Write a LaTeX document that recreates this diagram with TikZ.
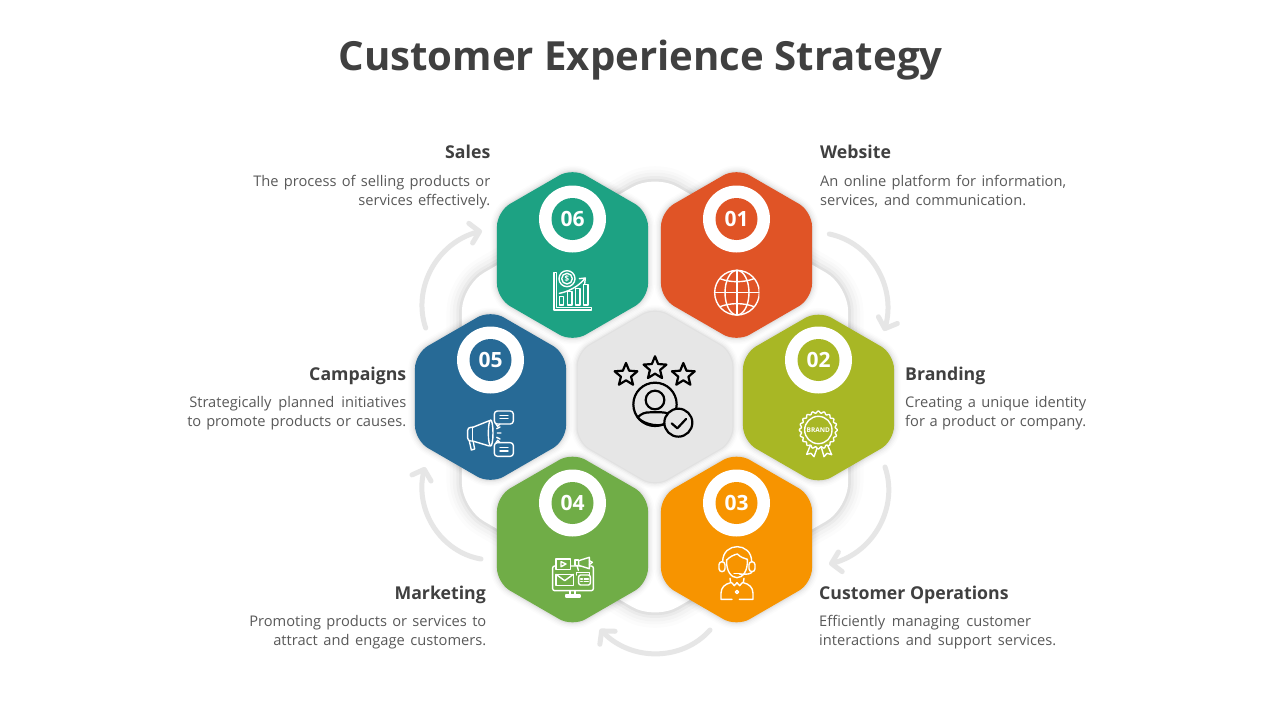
\documentclass[tikz,border=0pt]{standalone}
\usepackage{fontspec}
\setmainfont{Open Sans}
\usetikzlibrary{shapes.geometric,arrows.meta,bending,calc}
\definecolor{cteal}{HTML}{1DA283}
\definecolor{cred}{HTML}{E05426}
\definecolor{colive}{HTML}{A8B725}
\definecolor{corange}{HTML}{F79400}
\definecolor{cgreen}{HTML}{70AD47}
\definecolor{cblue}{HTML}{276A96}
\definecolor{cgrey}{HTML}{E6E6E6}
\definecolor{ctitle}{HTML}{404040}
\definecolor{cbody}{HTML}{595959}
\newcommand{\fitline}[2]{\makebox[#1pt][s]{\strut #2}}
\tikzset{
  softshadow/.style={
    preaction={draw=black,draw opacity=.012,line width=#1*2.2pt,line join=round},
    preaction={draw=black,draw opacity=.016,line width=#1*1.7pt,line join=round},
    preaction={draw=black,draw opacity=.02,line width=#1*1.3pt,line join=round},
    preaction={draw=black,draw opacity=.03,line width=#1*.8pt,line join=round},
    preaction={draw=black,draw opacity=.04,line width=#1*.4pt,line join=round}},
  hexa/.style={regular polygon,regular polygon sides=6,shape border rotate=30,
    minimum size=174.4pt,inner sep=0pt,outer sep=0pt,rounded corners=15pt,
    fill=#1,softshadow=6},
  hubhex/.style={regular polygon,regular polygon sides=6,shape border rotate=30,
    minimum size=178.5pt,inner sep=0pt,outer sep=0pt,rounded corners=14pt,
    fill=#1,softshadow=6},
  bighex/.style={regular polygon,regular polygon sides=6,shape border rotate=30,
    minimum size=446pt,inner sep=0pt,outer sep=0pt,rounded corners=26pt,
    fill=white,softshadow=14},
  ring/.style={circle,fill=white,minimum size=67pt,inner sep=0pt},
  badge/.style={circle,fill=#1,minimum size=42pt,inner sep=0pt,text=white,
    font=\fontsize{21}{24}\selectfont\bfseries},
  cyclearrow/.style={draw=cgrey,line width=5pt,line cap=round,
    -{Straight Barb[length=9pt,width=20pt,round]}},
  maintitle/.style={text=ctitle,font=\fontsize{40.15}{48}\selectfont\bfseries,inner sep=0pt,anchor=base},
  headl/.style={text=ctitle,font=\fontsize{17.7}{24}\selectfont\bfseries,inner sep=0pt,anchor=base west},
  headr/.style={text=ctitle,font=\fontsize{17.7}{24}\selectfont\bfseries,inner sep=0pt,anchor=base east},
  bodyl/.style={text=cbody,font=\fontsize{14.67}{19}\selectfont,inner sep=0pt,anchor=north west,align=left},
  bodyr/.style={text=cbody,font=\fontsize{14.67}{19}\selectfont,inner sep=0pt,anchor=north east,align=right},
  ico/.style={draw=white,line width=1.4pt,line cap=round,line join=round},
  icon/.style={draw=black,line width=2.2pt,line cap=round,line join=round},
  zoomed/.style={shift={#1},scale=.33333},
}
\begin{document}
\begin{tikzpicture}[x=1pt,y=-1pt]
\useasboundingbox (0,0) rectangle (1280,720);
\fill[white] (0,0) rectangle (1280,720);

\node[maintitle] (title) at (640.5,70) {Customer Experience Strategy};

\node[bighex] (back) at (655,397) {};

% cycle arrows
\coordinate (s12) at (829.3,234); \coordinate (t12) at (884,331);
\coordinate (s23) at (885,467);   \coordinate (t23) at (829,564);
\coordinate (s34) at (710,630);   \coordinate (t34) at (600,629);
\coordinate (s45) at (481,559);   \coordinate (t45) at (425,467);
\coordinate (s56) at (425.7,328); \coordinate (t56) at (482,231);
\draw[cyclearrow] (s12) to[bend left=49] (t12);
\draw[cyclearrow] (s23) to[bend left=49] (t23);
\draw[cyclearrow] (s34) to[bend left=49] (t34);
\draw[cyclearrow] (s45) to[bend left=49] (t45);
\draw[cyclearrow] (s56) to[bend left=49] (t56);

% hexagons
\node[hubhex=cgrey] (hub)  at (655,397) {};
\node[hexa=cred]    (h1)   at (736.5,255) {};
\node[hexa=colive]  (h2)   at (818.5,397.5) {};
\node[hexa=corange] (h3)   at (736.5,539.5) {};
\node[hexa=cgreen]  (h4)   at (572.5,539.5) {};
\node[hexa=cblue]   (h5)   at (490.5,397) {};
\node[hexa=cteal]   (h6)   at (572.5,255) {};

% number rings
\node[ring] (r1) at (736.5,219) {}; \node[badge=cred]    (n1) at (r1) {01};
\node[ring] (r2) at (818.5,360) {}; \node[badge=colive]  (n2) at (r2) {02};
\node[ring] (r3) at (736.5,503) {}; \node[badge=corange] (n3) at (r3) {03};
\node[ring] (r4) at (572.5,503) {}; \node[badge=cgreen]  (n4) at (r4) {04};
\node[ring] (r5) at (490.5,360) {}; \node[badge=cblue]   (n5) at (r5) {05};
\node[ring] (r6) at (572.5,219) {}; \node[badge=cteal]   (n6) at (r6) {06};

% labels
\node[headr] (lsales) at (490.5,158) {Sales};
\node[bodyr] (tsales) at (490.5,172.5) {\fitline{237}{The process of selling products or}\\\fitline{132}{services effectively.}};
\node[headl] (lweb) at (820,158) {Website};
\node[bodyl] (tweb) at (820,172.5) {\fitline{246}{An online platform for information,}\\\fitline{206}{services, and communication.}};
\node[headr] (lcamp) at (406.5,380) {Campaigns};
\node[bodyr] (tcamp) at (406.5,394) {\fitline{217}{Strategically planned initiatives}\\\fitline{219}{to promote products or causes.}};
\node[headl] (lbrand) at (905,380) {Branding};
\node[bodyl] (tbrand) at (905,394) {\fitline{181}{Creating a unique identity}\\\fitline{181}{for a product or company.}};
\node[headr] (lmark) at (486,599) {Marketing};
\node[bodyr] (tmark) at (486.5,613) {\fitline{237}{Promoting products or services to}\\\fitline{213}{attract and engage customers.}};
\node[headl] (lops) at (819,599) {Customer Operations};
\node[bodyl] (tops) at (819,613) {\fitline{212}{Efficiently managing customer}\\\fitline{237}{interactions and support services.}};

% icon 06: chart
\begin{scope}[zoomed={(480,160)}]
  \draw[ico] (222,338) -- (222,450) -- (334,450) -- (334,443) -- (230,443) -- (230,338) -- cycle;
  \foreach \xa/\xb/\yt in {238/250/410,262/276/395,286/300/385,310/324/373}
    \draw[ico] (\xa,435) rectangle (\xb,\yt);
  \draw[ico] (238,400) .. controls (265,395) and (295,380) .. (314,356);
  \draw[ico] (298,356) -- (316,354) -- (314,372);
  \fill[cteal] (261,356) circle (24);
  \draw[ico] (261,356) circle (24);
  \draw[ico] (261,356) circle (16);
  \node[text=white,inner sep=0pt,font=\fontsize{8}{8}\selectfont\bfseries] (dollar) at (261,356) {\$};
\end{scope}

% icon 01: globe
\begin{scope}[zoomed={(480,160)}]
  \begin{scope}
    \clip (700,325) rectangle (838,470);
    \draw[ico] (771,398) circle (67);
    \draw[ico] (771,398) ellipse (36 and 67);
    \draw[ico] (771,331) -- (771,465);
    \draw[ico] (704,398) -- (838,398);
    \draw[ico] (720,356) .. controls (750,368) and (792,368) .. (822,356);
    \draw[ico] (720,440) .. controls (750,428) and (792,428) .. (822,440);
  \end{scope}
\end{scope}

% icon 02: badge
\begin{scope}[zoomed={(780,220)}]
  \draw[ico] (92,674) -- (80,703) -- (93,700) -- (102,710) -- (112,682);
  \draw[ico] (124,682) -- (132,710) -- (141,700) -- (155,704) -- (142,674);
  \draw[ico,fill=colive,smooth,samples=145,domain=0:360] plot ({115+(54+3*cos(20*\x))*cos(\x)},{630+(54+3*cos(20*\x))*sin(\x)}) -- cycle;
  \draw[ico] (115,630) circle (41);
  \node[text=white,inner sep=0pt,font=\fontsize{6.5}{7}\selectfont\bfseries] (brandmark) at (115,630) {BRAND};
\end{scope}

% icon 03: agent
\begin{scope}[zoomed={(530,530)}]
  \draw[ico] (578,95) .. controls (578,35) and (665,35) .. (665,95);
  \draw[ico,rounded corners=3pt] (567,95) rectangle (585,125);
  \draw[ico,rounded corners=3pt] (657,95) rectangle (675,125);
  \draw[ico] (590,90) .. controls (600,80) and (610,75) .. (622,72) .. controls (632,82) and (642,85) .. (652,88);
  \draw[ico] (590,90) .. controls (588,125) and (605,143) .. (621,143) .. controls (637,143) and (654,125) .. (652,88);
  \draw[ico] (666,125) .. controls (664,132) and (650,134) .. (628,132);
  \draw[ico] (612,130) -- (630,130);
  \draw[ico] (600,145) -- (602,158) .. controls (585,162) and (573,172) .. (573,190) -- (573,208) -- (606,208);
  \draw[ico] (642,145) -- (640,158) .. controls (657,162) and (669,172) .. (669,190) -- (669,208) -- (628,208);
  \draw[ico] (604,157) -- (613,167) -- (621,158) -- (629,167) -- (638,157);
  \draw[ico] (621,186) circle (5);
\end{scope}

% icon 04: screen
\begin{scope}[zoomed={(530,530)}]
  \draw[ico,rounded corners=2pt] (68,108) rectangle (190,182);
  \draw[ico] (120,182) -- (120,195);
  \draw[ico] (135,182) -- (135,195);
  \draw[ico] (108,195) rectangle (150,201);
  \draw[ico,fill=cgreen] (78,87) rectangle (122,118);
  \draw[ico] (93,95) -- (93,110) -- (108,102) -- cycle;
  \draw[ico] (78,133) rectangle (130,167);
  \draw[ico] (78,133) -- (104,152) -- (130,133);
  \draw[ico,fill=cgreen] (135,90) rectangle (146,106);
  \draw[ico,fill=cgreen] (146,92) -- (178,82) -- (178,116) -- (146,106) -- cycle;
  \draw[ico] (178,92) -- (187,97) -- (178,104);
  \draw[ico] (141,106) -- (145,121);
  \draw[ico] (140,135) -- (140,128) -- (178,128) -- (178,135);
  \draw[ico,fill=cgreen,rounded corners=2pt] (146,135) rectangle (181,165);
  \draw[ico] (152,147) -- (157,147) (163,147) -- (175,147) (152,155) -- (157,155) (163,155) -- (175,155);
\end{scope}

% icon 05: megaphone
\begin{scope}[zoomed={(400,300)}]
  \draw[ico,rounded corners=3pt] (218,382) -- (203,382) -- (203,423) -- (218,423);
  \draw[ico] (218,382) -- (268,362);
  \draw[ico] (218,423) -- (268,438);
  \draw[ico] (272,399) ellipse (7 and 39);
  \draw[ico] (218,382) -- (218,423);
  \draw[ico] (208,423) -- (214,450) -- (224,447) -- (220,427);
  \draw[ico] (290,386) -- (300,381) (292,399) -- (303,399) (290,412) -- (300,417);
  \draw[ico,rounded corners=3pt] (283,333) rectangle (340,372);
  \draw[ico] (288,372) -- (293,379) -- (300,372);
  \draw[ico] (300,346) -- (324,346) (300,356) -- (324,356);
  \draw[ico,rounded corners=3pt] (283,428) rectangle (340,469);
  \draw[ico] (288,428) -- (293,421) -- (300,428);
  \draw[ico] (300,443) -- (324,443) (300,453) -- (324,453);
\end{scope}

% hub icon
\begin{scope}[zoomed={(600,345)}]
  \foreach \n/\px/\py in {a/78/90,b/165/70,c/250/90}
    \node[star,star points=5,star point ratio=2.25,draw=black,line width=2.2pt,line join=round,minimum size=24pt,inner sep=0pt] (star\n) at (\px,\py) {};
  \draw[icon] (165,178) circle (65);
  \draw[icon] (165,165) circle (28);
  \draw[icon] (113,217) .. controls (125,205) and (135,202) .. (150,202) -- (185,202) .. controls (200,202) and (210,208) .. (218,217);
  \draw[icon] (113,217) .. controls (130,240) and (190,250) .. (205,230);
  \draw[icon,fill=cgrey] (235,233) circle (42);
  \draw[icon] (215,235) -- (232,250) -- (258,222);
\end{scope}
\end{tikzpicture}
\end{document}
